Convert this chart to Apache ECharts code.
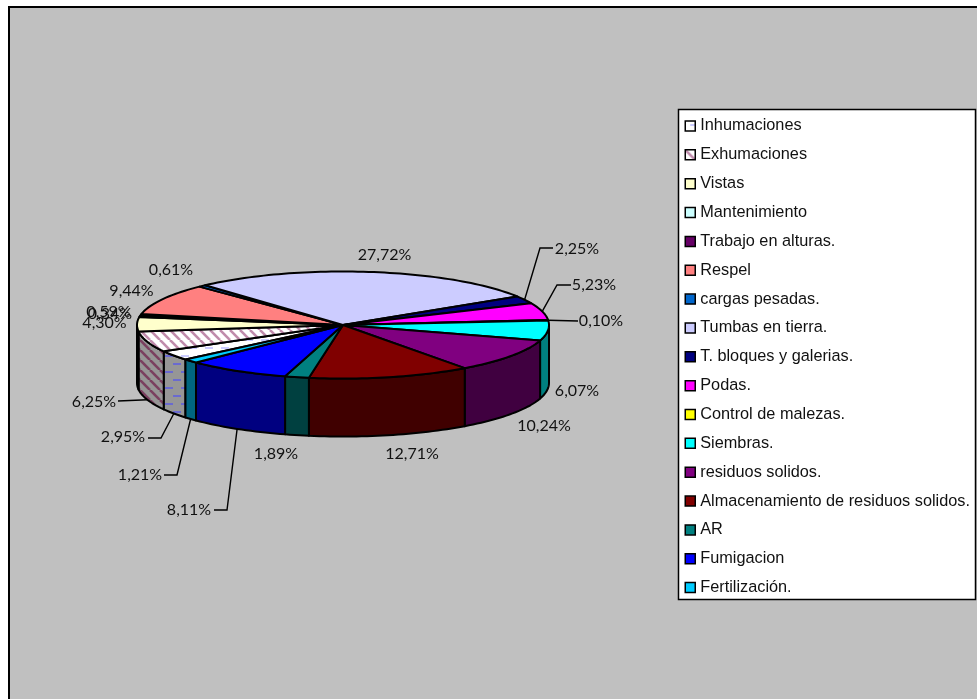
<!DOCTYPE html>
<html><head><meta charset="utf-8">
<style>html,body{margin:0;padding:0;background:#fff}#c{width:977px;height:699px}</style>
<script src="https://cdn.jsdelivr.net/npm/echarts@6/dist/echarts.min.js"></script>
</head><body><div id="c"></div>
<script>
// ---- data, in legend order ----
const categories = ['Inhumaciones','Exhumaciones','Vistas','Mantenimiento','Trabajo en alturas.','Respel','cargas pesadas.','Tumbas en tierra.','T. bloques y galerias.','Podas.','Control de malezas.','Siembras.','residuos solidos.','Almacenamiento de residuos solidos.','AR','Fumigacion','Fertilización.'];
const percentages = [2.95,6.25,4.30,0.34,0.59,9.44,0.61,27.72,2.25,5.23,0.10,6.07,10.24,12.71,1.89,8.11,1.21];
// slices run clockwise in this order (indexes into the arrays above)
const drawOrder = [7,8,9,10,11,12,13,14,15,16,0,1,2,3,4,5,6];
const labelTexts = ['2,95%','6,25%','4,30%','0,34%','0,59%','9,44%','0,61%','27,72%','2,25%','5,23%','0,10%','6,07%','10,24%','12,71%','1,89%','8,11%','1,21%'];

// ---- styles ----
const topColors = ['dash','hatch','#ffffcc','#ccffff','#660066','#ff8080','#0066cc','#ccccff','#000080','#ff00ff','#ffff00','#00ffff','#800080','#800000','#008080','#0000ff','#00ccff'];
const sideColors = ['dashSide','hatchSide','#808066','#668080','#330033','#804040','#003366','#666680','#000040','#800080','#808000','#008080','#400040','#400000','#004040','#000080','#006680'];
// label centre and elbow line ends, page layout only
const labelLayout = {
 0:{x:123,y:437,line:[[161,438],[148,438]]},
 1:{x:94,y:402,line:[[118,401]]},
 2:{x:104.5,y:323},
 3:{x:110,y:314},
 4:{x:108.5,y:312},
 5:{x:131.5,y:291},
 6:{x:171,y:270},
 7:{x:384.5,y:255},
 8:{x:577,y:249,line:[[540,248],[553,248]]},
 9:{x:594,y:285,line:[[557,285],[571,285]]},
 10:{x:601,y:321,line:[[578,321]]},
 11:{x:577,y:391},
 12:{x:544,y:426},
 13:{x:412,y:454},
 14:{x:276,y:454},
 15:{x:189,y:510,line:[[227,510],[214,510]]},
 16:{x:140,y:475,line:[[177,475],[164,475]]}
};
const PIE = {cx:343,cy:325,rx:206,ry:53.5,depth:58,start:-42};

function tile(size,bg,draw){
  const c=document.createElement('canvas');c.width=c.height=size;
  const g=c.getContext('2d');g.fillStyle=bg;g.fillRect(0,0,size,size);draw(g);
  return {image:c,repeat:'repeat'};
}
function hatch(bg,fg){return tile(10,bg,g=>{
  g.strokeStyle=fg;g.lineWidth=2.6;
  for(let k=-10;k<=10;k+=10){g.beginPath();g.moveTo(k,0);g.lineTo(k+10,10);g.stroke();}
});}
function dash(bg,fg){return tile(16,bg,g=>{
  g.fillStyle=fg;g.fillRect(5,3,8,2);g.fillRect(13,11,3,2);g.fillRect(0,11,5,2);
});}
const patterns = {
  dash:dash('#ffffff','#ccccff'),
  dashSide:dash('#969696','#6a6ad0'),
  hatch:hatch('#ffffff','#c08cac'),
  hatchSide:hatch('#969696','#7a4060')
};
const paint = c => patterns[c] || c;

const total = percentages.reduce((a,b)=>a+b,0);
const ranges = {};
let acc = 0;
drawOrder.forEach(i=>{
  const a0 = PIE.start + acc/total*360; acc += percentages[i];
  ranges[i] = [a0, PIE.start + acc/total*360];
});
function pt(deg,dy){
  const r = deg*Math.PI/180;
  return [PIE.cx+PIE.rx*Math.sin(r), PIE.cy-PIE.ry*Math.cos(r)+(dy||0)];
}
function arc(a0,a1,dy){
  const n=Math.max(2,Math.ceil(Math.abs(a1-a0)/1.5)), out=[];
  for(let k=0;k<=n;k++) out.push(pt(a0+(a1-a0)*k/n,dy));
  return out;
}
function renderer(i){
  return function(params,api){
    api.value(0);
    const [a0,a1]=ranges[i], kids=[];
    // visible side wall: front half of the ellipse only
    const s0=Math.max(a0,90), s1=Math.min(a1,270);
    if(s1>s0){
      kids.push({type:'polygon',shape:{points:arc(s0,s1,0).concat(arc(s1,s0,PIE.depth))},
        style:{fill:paint(sideColors[i]),stroke:'#000',lineWidth:2,lineJoin:'round'},z2:1});
    }
    kids.push({type:'polygon',shape:{points:[[PIE.cx,PIE.cy]].concat(arc(a0,a1,0))},
      style:{fill:paint(topColors[i]),stroke:'#000',lineWidth:2,lineJoin:'round'},z2:2});
    const L=labelLayout[i], mid=(a0+a1)/2;
    if(L.line){
      const front=mid>100&&mid<262;
      const p=pt(mid,front?58:0);
      kids.push({type:'polyline',shape:{points:[p].concat(L.line)},style:{fill:null,stroke:'#000',lineWidth:1.4},z2:3});
    }
    kids.push({type:'text',z2:4,style:{text:labelTexts[i],x:L.x,y:L.y,align:'center',verticalAlign:'middle',font:'16px Lato',fill:'#111'}});
    return {type:'group',children:kids};
  };
}
const chart = echarts.init(document.getElementById('c'),null,{renderer:'canvas'});
chart.setOption({
  animation:false,
  backgroundColor:'#ffffff',
  tooltip:{show:false},
  graphic:[
    {type:'rect',z:-10,silent:true,shape:{x:9,y:7,width:980,height:700},style:{fill:'#c0c0c0',stroke:'#000',lineWidth:2}},
    {type:'rect',z:-9,silent:true,shape:{x:678.5,y:109.5,width:297,height:490},style:{fill:'#fff',stroke:'#000',lineWidth:1.5}}
  ],
  legend:{
    orient:'vertical',left:684.5,top:117,padding:0,selectedMode:false,icon:'rect',
    itemWidth:10,itemHeight:10,itemGap:10.85,
    itemStyle:{borderColor:'#000',borderWidth:1.5},
    textStyle:{fontFamily:'"Liberation Sans"',fontSize:16.3,color:'#111',lineHeight:18},
    data:categories
  },
  series:categories.map((name,i)=>({
    type:'custom',name,coordinateSystem:'none',silent:true,
    itemStyle:{color:paint(topColors[i])},
    renderItem:renderer(i),
    data:[[percentages[i]]]
  }))
});
</script></body></html>
